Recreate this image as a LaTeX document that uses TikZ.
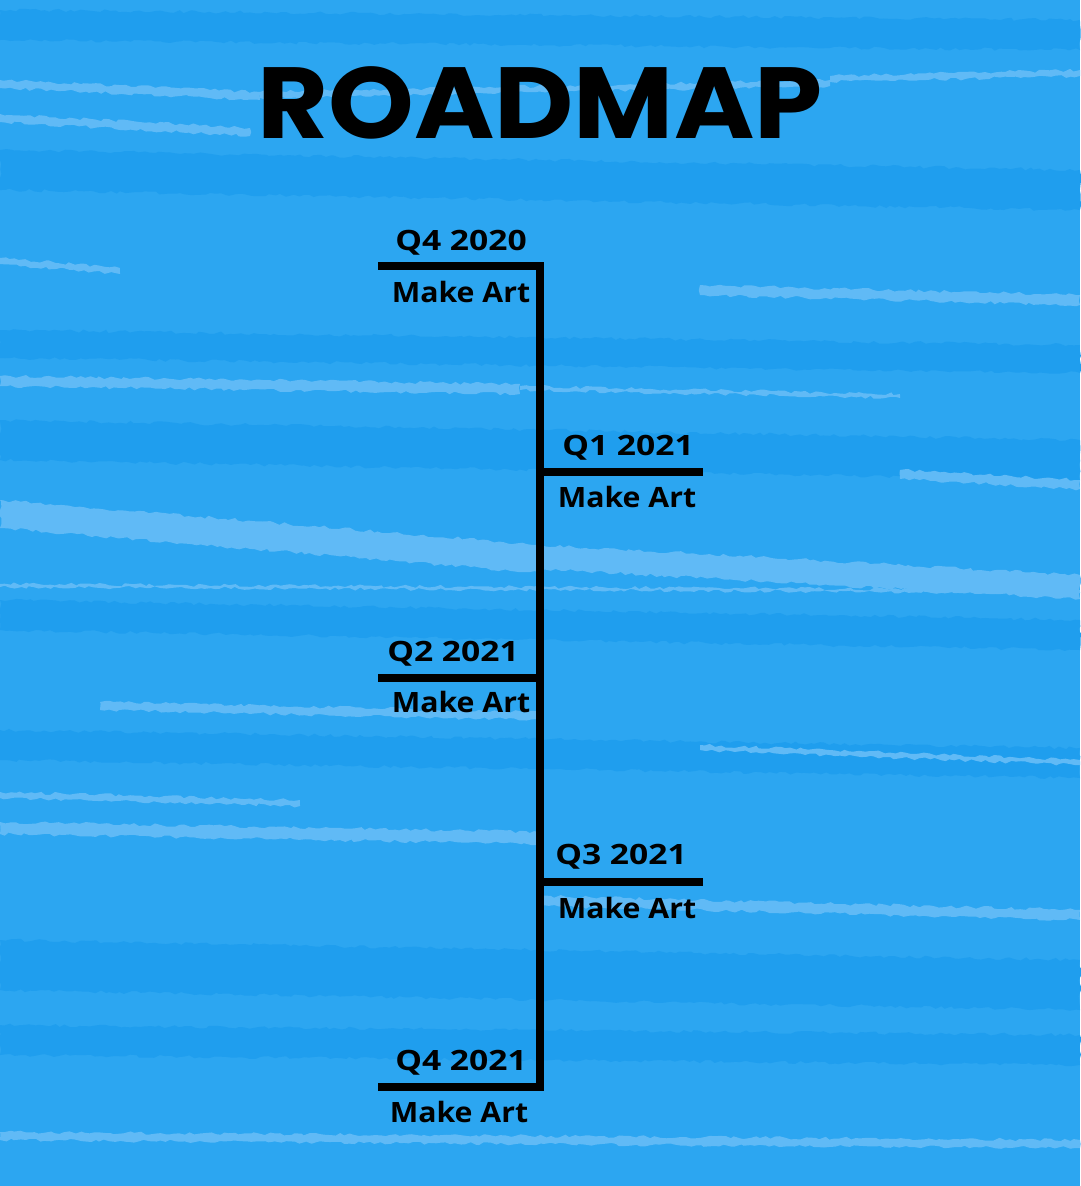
\documentclass[tikz,border=0pt]{standalone}
\usepackage{fontspec}
\setmainfont{Open Sans}
\newfontfamily\titlefont{Poppins}[FakeStretch=1.08]
\newfontfamily\quarterfont{Open Sans}[FakeStretch=1.2]
\newfontfamily\taskfont{Open Sans}[FakeStretch=1.08]
\usetikzlibrary{decorations.pathmorphing}
\definecolor{bgbase}{HTML}{2CA6F1}
\definecolor{bgdark}{HTML}{1F9EEE}
\definecolor{bglight}{HTML}{60BAF6}
\newcommand{\bgstripe}[6]{%
  \fill[#1,decorate,decoration={random steps,segment length=5pt,amplitude=1.6pt}]
    (#2,#3) -- (#4,#5) -- (#4,#5+#6) -- (#2,#3+#6) -- cycle;}
\tikzset{
  roadline/.style={line width=8pt,black,line join=miter},
  quarter/.style={font=\quarterfont\fontsize{28}{30}\selectfont\bfseries,inner sep=0pt,anchor=center},
  task/.style={font=\taskfont\fontsize{28}{30}\selectfont\bfseries,inner sep=0pt,anchor=center},
  titlestyle/.style={font=\titlefont\fontsize{101}{110}\selectfont\bfseries,inner sep=0pt}
}
\begin{document}
\begin{tikzpicture}[x=1pt,y=-1pt]
\pgfmathsetseed{42}
\useasboundingbox (0,0) rectangle (1080,1186);
\fill[bgbase] (0,0) rectangle (1080,1186);
% darker bands
\bgstripe{bgdark}{0}{10}{1080}{20}{30}
\bgstripe{bgdark}{0}{150}{1080}{170}{40}
\bgstripe{bgdark}{0}{330}{1080}{345}{28}
\bgstripe{bgdark}{0}{420}{1080}{440}{40}
\bgstripe{bgdark}{0}{600}{1080}{620}{30}
\bgstripe{bgdark}{0}{730}{1080}{748}{30}
\bgstripe{bgdark}{0}{940}{1080}{960}{50}
\bgstripe{bgdark}{0}{1025}{1080}{1035}{30}
% lighter streaks
\bgstripe{bglight}{0}{80}{260}{92}{8}
\bgstripe{bglight}{260}{92}{830}{80}{6}
\bgstripe{bglight}{830}{76}{1080}{70}{6}
\bgstripe{bglight}{0}{114}{250}{128}{8}
\bgstripe{bglight}{0}{258}{120}{268}{6}
\bgstripe{bglight}{700}{285}{1080}{295}{10}
\bgstripe{bglight}{0}{376}{520}{384}{10}
\bgstripe{bglight}{520}{386}{900}{394}{4}
\bgstripe{bglight}{900}{470}{1080}{480}{9}
\bgstripe{bglight}{0}{500}{540}{545}{28}
\bgstripe{bglight}{540}{545}{1080}{575}{24}
\bgstripe{bglight}{0}{584}{1080}{590}{3}
\bgstripe{bglight}{100}{702}{540}{712}{8}
\bgstripe{bglight}{700}{745}{1080}{760}{5}
\bgstripe{bglight}{0}{792}{300}{800}{6}
\bgstripe{bglight}{0}{822}{540}{832}{12}
\bgstripe{bglight}{540}{896}{1080}{910}{10}
\bgstripe{bglight}{0}{1132}{1080}{1140}{8}
% title
\node[titlestyle] (title) at (540,103) {ROADMAP};
% timeline coordinates
\coordinate (s0) at (378,266);
\coordinate (c0) at (540,266);
\coordinate (c4) at (540,1087);
\coordinate (s4) at (378,1087);
\coordinate (c1) at (540,472);
\coordinate (s1) at (703,472);
\coordinate (c2) at (540,678);
\coordinate (s2) at (378,678);
\coordinate (c3) at (540,882);
\coordinate (s3) at (703,882);
\draw[roadline] (s0) -- (c0) -- (c4) -- (s4);
\draw[roadline] (c1) -- (s1);
\draw[roadline] (c2) -- (s2);
\draw[roadline] (c3) -- (s3);
% labels
\node[quarter] (q0) at (461,243) {Q4 2020};
\node[task] (t0) at (461,292) {Make Art};
\node[quarter] (q1) at (628,448) {Q1 2021};
\node[task] (t1) at (627,497) {Make Art};
\node[quarter] (q2) at (453,654) {Q2 2021};
\node[task] (t2) at (461,702) {Make Art};
\node[quarter] (q3) at (621,857) {Q3 2021};
\node[task] (t3) at (627,908) {Make Art};
\node[quarter] (q4) at (461,1063) {Q4 2021};
\node[task] (t4) at (459,1112) {Make Art};
\end{tikzpicture}
\end{document}
